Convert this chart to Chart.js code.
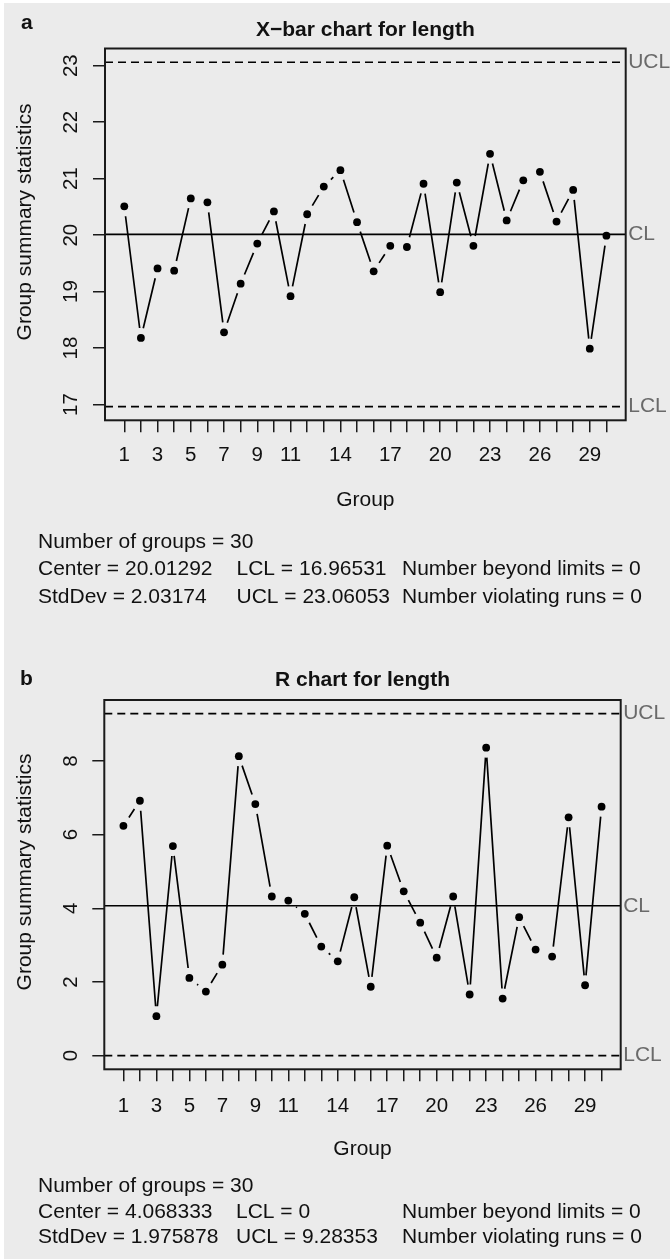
<!DOCTYPE html>
<html>
<head>
<meta charset="utf-8">
<script src="https://cdn.jsdelivr.net/npm/chart.js@4.4.1/dist/chart.umd.min.js"></script>
<style>
  html, body { margin: 0; padding: 0; background: #fff; }
  #panel { position: absolute; left: 4px; top: 3px; width: 666px; height: 1256px; background: #ebebeb; }
  canvas { position: absolute; left: 0; }
</style>
</head>
<body>
<div id="panel"></div>
<canvas id="xbarChart" width="670" height="665" style="top:0px"></canvas>
<canvas id="rangeChart" width="670" height="594" style="top:665px"></canvas>
<script>
const FONT = '"Liberation Sans", Arial, Helvetica, sans-serif';
const INK = '#111';

// data
const groups = [1, 2, 3, 4, 5, 6, 7, 8, 9, 10, 11, 12, 13, 14, 15, 16, 17, 18, 19, 20, 21, 22, 23, 24, 25, 26, 27, 28, 29, 30];
const xbarValues = [20.51, 18.18, 19.41, 19.37, 20.65, 20.58, 18.28, 19.14, 19.85, 20.42,
                    18.92, 20.37, 20.86, 21.15, 20.23, 19.36, 19.81, 19.79, 20.91, 18.99,
                    20.93, 19.81, 21.44, 20.26, 20.97, 21.12, 20.24, 20.80, 17.99, 19.99];
const rangeValues = [6.24, 6.92, 1.07, 5.69, 2.11, 1.74, 2.47, 8.13, 6.83, 4.32,
                     4.21, 3.85, 2.96, 2.56, 4.30, 1.87, 5.70, 4.46, 3.61, 2.66,
                     4.32, 1.66, 8.36, 1.55, 3.76, 2.88, 2.69, 6.47, 1.91, 6.76];
const xTickLabels = [1, 3, 5, 7, 9, 11, 14, 17, 20, 23, 26, 29];
const limitNames = ['LCL', 'CL', 'UCL'];
const xbarLimits = [16.96531, 20.01292, 23.06053];
const rangeLimits = [0, 4.068333, 9.28353];
const xbarYTicks = [17, 18, 19, 20, 21, 22, 23];
const rangeYTicks = [0, 2, 4, 6, 8];
const xbarSummary = [
  ['Number of groups = 30', '', ''],
  ['Center = 20.01292', 'LCL = 16.96531', 'Number beyond limits = 0'],
  ['StdDev = 2.03174', 'UCL = 23.06053', 'Number violating runs = 0']
];
const rangeSummary = [
  ['Number of groups = 30', '', ''],
  ['Center = 4.068333', 'LCL = 0', 'Number beyond limits = 0'],
  ['StdDev = 1.975878', 'UCL = 9.28353', 'Number violating runs = 0']
];

// R style "type b" line: segments stop short of the points
const gappedLines = {
  id: 'gappedLines',
  afterDatasetsDraw(chart, args, opts) {
    const pts = chart.getDatasetMeta(0).data;
    const ctx = chart.ctx;
    const gap = opts.gap;
    ctx.save();
    ctx.strokeStyle = '#000';
    ctx.lineWidth = 1.7;
    ctx.beginPath();
    for (let i = 1; i < pts.length; i++) {
      const a = pts[i - 1], b = pts[i];
      const dx = b.x - a.x, dy = b.y - a.y;
      const len = Math.hypot(dx, dy);
      if (len <= 2 * gap) continue;
      const ux = dx / len, uy = dy / len;
      ctx.moveTo(a.x + ux * gap, a.y + uy * gap);
      ctx.lineTo(b.x - ux * gap, b.y - uy * gap);
    }
    ctx.stroke();
    ctx.restore();
  }
};

// box, titles, labels and summary text
const decorations = {
  id: 'decorations',
  afterDraw(chart, args, o) {
    const ctx = chart.ctx;
    const area = chart.chartArea;
    const yScale = chart.scales.y;
    ctx.save();
    ctx.strokeStyle = '#1a1a1a';
    ctx.lineWidth = 2;
    ctx.strokeRect(area.left, area.top, area.right - area.left, area.bottom - area.top);

    ctx.fillStyle = INK;
    ctx.textBaseline = 'middle';
    ctx.font = 'bold 21px ' + FONT;
    ctx.textAlign = 'left';
    ctx.fillText(o.letter, o.letterX, o.letterY);
    ctx.textAlign = 'center';
    ctx.fillText(o.title, (area.left + area.right) / 2, o.titleY);

    ctx.font = '21px ' + FONT;
    ctx.fillText('Group', (area.left + area.right) / 2, o.xlabY);
    ctx.save();
    ctx.translate(o.ylabX, o.ylabY);
    ctx.rotate(-Math.PI / 2);
    ctx.fillText('Group summary statistics', 0, 0);
    ctx.restore();

    ctx.textAlign = 'left';
    o.summary.forEach((row, r) => {
      row.forEach((txt, c) => {
        if (txt) ctx.fillText(txt, o.colX[c], o.rowY[r]);
      });
    });

    ctx.fillStyle = '#6a6a6a';
    o.limits.forEach((v, i) => {
      ctx.fillText(limitNames[i], area.right + 2.5, yScale.getPixelForValue(v));
    });
    ctx.restore();
  }
};

function makeChart(id, values, limits, yTicks, area, yPad, xPad, deco) {
  const canvas = document.getElementById(id);
  const W = canvas.width, H = canvas.height;
  const xSpan = groups[groups.length - 1] - groups[0];
  const xMin = groups[0] - 0.04 * xSpan;
  const xMax = groups[groups.length - 1] + 0.04 * xSpan;
  const lo = Math.min(...values, ...limits);
  const hi = Math.max(...values, ...limits);
  const yMin = lo - 0.04 * (hi - lo);
  const yMax = hi + 0.04 * (hi - lo);

  const limitSets = limits.map((v, i) => ({
    data: [{ x: xMin, y: v }, { x: xMax, y: v }],
    borderColor: '#000',
    borderWidth: 1.7,
    borderDash: limitNames[i] === 'CL' ? [] : [8, 5],
    pointRadius: 0,
    showLine: true,
    fill: false
  }));

  const tickGrid = { display: true, drawOnChartArea: false, drawTicks: true, tickLength: 12, color: '#1a1a1a', lineWidth: 1.5 };

  return new Chart(canvas.getContext('2d'), {
    type: 'line',
    data: {
      datasets: [{
        data: groups.map((g, i) => ({ x: g, y: values[i] })),
        showLine: false,
        pointRadius: 3.9,
        pointBackgroundColor: '#000',
        pointBorderWidth: 0
      }, ...limitSets]
    },
    plugins: [gappedLines, decorations],
    options: {
      responsive: false,
      animation: false,
      events: [],
      layout: { padding: { top: area.top, right: W - area.right, bottom: 0, left: 0 } },
      plugins: {
        legend: { display: false },
        tooltip: { enabled: false },
        title: { display: false },
        gappedLines: { gap: 10 },
        decorations: Object.assign({ limits }, deco)
      },
      scales: {
        x: {
          type: 'linear',
          min: xMin,
          max: xMax,
          afterBuildTicks: s => { s.ticks = groups.map(v => ({ value: v })); },
          afterFit: s => { s.height = H - area.bottom; },
          grid: tickGrid,
          border: { display: false },
          ticks: {
            autoSkip: false,
            minRotation: 0,
            maxRotation: 0,
            padding: xPad,
            color: INK,
            font: { family: FONT, size: 20.5 },
            callback: v => xTickLabels.includes(v) ? String(v) : ''
          }
        },
        y: {
          type: 'linear',
          min: yMin,
          max: yMax,
          afterBuildTicks: s => { s.ticks = yTicks.map(v => ({ value: v })); },
          afterFit: s => { s.width = area.left; },
          grid: tickGrid,
          border: { display: false },
          ticks: {
            minRotation: 90,
            maxRotation: 90,
            crossAlign: 'center',
            padding: yPad,
            color: INK,
            font: { family: FONT, size: 20.5 },
            callback: v => String(v)
          }
        }
      }
    }
  });
}

makeChart('xbarChart', xbarValues, xbarLimits, xbarYTicks,
  { left: 105, top: 48.5, right: 625.7, bottom: 420.3 }, 10, 11,
  {
    letter: 'a', letterX: 21, letterY: 23,
    title: 'X\u2212bar chart for length', titleY: 30,
    xlabY: 500, ylabX: 25, ylabY: 222,
    summary: xbarSummary, colX: [38, 236.5, 402], rowY: [542, 569.5, 597]
  });

makeChart('rangeChart', rangeValues, rangeLimits, rangeYTicks,
  { left: 104.3, top: 35, right: 620.7, bottom: 404.3 }, 15, 13,
  {
    letter: 'b', letterX: 20, letterY: 14,
    title: 'R chart for length', titleY: 15,
    xlabY: 484, ylabX: 25, ylabY: 207,
    summary: rangeSummary, colX: [38, 236, 402], rowY: [521.7, 547, 572.5]
  });
</script>
</body>
</html>
